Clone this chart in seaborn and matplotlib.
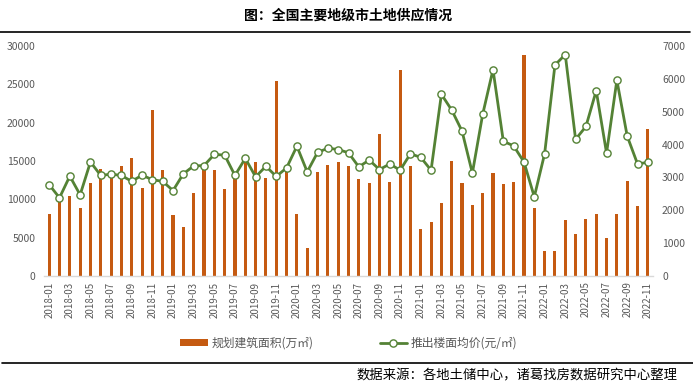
import numpy as np
import pandas as pd
import matplotlib
matplotlib.use("Agg")
import matplotlib.pyplot as plt
from matplotlib.lines import Line2D
from matplotlib.patches import Patch
import seaborn as sns

sns.set_theme(style="white")
plt.rcParams['font.family'] = ['Noto Sans CJK SC', 'DejaVu Sans']

BAR_COLOR = "#C55A11"
LINE_COLOR = "#548235"
TICK_COLOR = "#595959"

months = pd.period_range("2018-01", "2022-11", freq="M").strftime("%Y-%m").tolist()

# 规划建筑面积(万㎡)
area = [8100, 9900, 10500, 8900, 12100, 14000, 13500, 14400, 15400, 11500, 21600, 13800,
        8000, 6400, 10800, 14000, 13800, 11400, 13000, 14900, 14900, 12800, 25400, 13700,
        8100, 3700, 13600, 14500, 14900, 14300, 12700, 12100, 18500, 12300, 26900, 14400,
        6100, 7000, 9500, 15000, 12100, 9300, 10800, 13400, 12000, 12300, 28800, 8900,
        3300, 3300, 7300, 5500, 7400, 8100, 5000, 8100, 12400, 9100, 19200]

# 推出楼面均价(元/㎡)
price = [2780, 2380, 3040, 2470, 3470, 3060, 3100, 3060, 2880, 3070, 2930, 2880,
         2600, 3110, 3350, 3360, 3700, 3680, 3060, 3580, 3020, 3340, 3030, 3290,
         3950, 3170, 3760, 3890, 3850, 3750, 3320, 3530, 3240, 3410, 3220, 3720,
         3610, 3220, 5530, 5050, 4410, 3130, 4920, 6280, 4100, 3960, 3470, 2410,
         3720, 6420, 6740, 4160, 4550, 5640, 3740, 5960, 4260, 3410, 3460]

df = pd.DataFrame({"month": months, "area": area, "price": price})
df["pos"] = np.arange(len(df))

fig = plt.figure(figsize=(6.93, 3.85), dpi=100)
ax = fig.add_axes([44 / 693, 1 - 276 / 385, 609 / 693, 230 / 385])

sns.barplot(data=df, x="month", y="area", color=BAR_COLOR, width=0.3,
            saturation=1, linewidth=0, ax=ax)
ax.set_xlim(-0.5, len(df) - 0.5)
ax.set_ylim(0, 30000)
ax.set_yticks(range(0, 30001, 5000))
ax.set_xticks(df["pos"][::2])
ax.set_xticklabels(df["month"][::2], rotation=90)
ax.set_xlabel("")
ax.set_ylabel("")
ax.tick_params(axis="y", length=0, pad=6, labelsize=7.5, labelcolor=TICK_COLOR)
ax.tick_params(axis="x", length=0, pad=4, labelsize=7, labelcolor=TICK_COLOR)
for s in ["top", "left", "right"]:
    ax.spines[s].set_visible(False)
ax.spines["bottom"].set_color("#D9D9D9")
ax.spines["bottom"].set_linewidth(1)

ax2 = ax.twinx()
sns.lineplot(data=df, x="pos", y="price", color=LINE_COLOR, linewidth=2.0,
             marker="o", markersize=5.2, markerfacecolor="white",
             markeredgecolor=LINE_COLOR, markeredgewidth=1, ax=ax2)
ax2.set_ylim(0, 7000)
ax2.set_yticks(range(0, 7001, 1000))
ax2.set_xlim(-0.5, len(df) - 0.5)
ax2.set_ylabel("")
ax2.tick_params(axis="y", length=0, pad=6.5, labelsize=7.5, labelcolor=TICK_COLOR)
for s in ["top", "left", "right", "bottom"]:
    ax2.spines[s].set_visible(False)
ax.grid(False)
ax2.grid(False)

handles = [Patch(facecolor=BAR_COLOR, edgecolor="none"),
           Line2D([], [], color=LINE_COLOR, linewidth=2.0, marker="o", markersize=5.2,
                  markerfacecolor="white", markeredgecolor=LINE_COLOR)]
labels = ["规划建筑面积(万㎡)", "推出楼面均价(元/㎡)"]
fig.legend(handles, labels, loc="center", bbox_to_anchor=(349 / 693, 1 - 343 / 385),
           ncol=2, frameon=False, fontsize=8.5, handlelength=2.3, handleheight=0.55,
           handletextpad=0.35, columnspacing=5.6, labelcolor=TICK_COLOR)

fig.text(348 / 693, 1 - 16 / 385, "图：全国主要地级市土地供应情况", ha="center",
         va="center", fontsize=10, fontweight="bold", color="black")
fig.add_artist(Line2D([0, 690 / 693], [1 - 32 / 385] * 2, color="black", linewidth=1.2))
fig.add_artist(Line2D([2 / 693, 1], [1 - 363 / 385] * 2, color="black", linewidth=1.2))
fig.text(678 / 693, 1 - 375 / 385, "数据来源：各地土储中心，诸葛找房数据研究中心整理",
         ha="right", va="center", fontsize=9.6, color="black")

fig.savefig("out.png", dpi=100)
